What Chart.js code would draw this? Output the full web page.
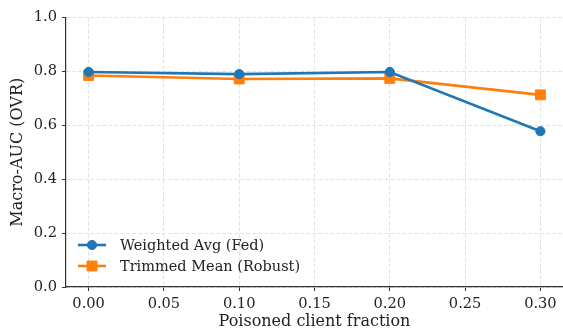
<!DOCTYPE html>
<html><head><meta charset="utf-8">
<script src="https://cdn.jsdelivr.net/npm/chart.js@4/dist/chart.umd.min.js"></script>
<style>html,body{margin:0;padding:0;background:#fff}#wrap{width:563px;height:331px}</style>
</head><body><div id="wrap"><canvas id="c" width="563" height="331"></canvas></div>
<script>
const fractions = [0.00, 0.10, 0.20, 0.30];
const weightedAvg = [0.798, 0.790, 0.798, 0.578];
const trimmedMean = [0.785, 0.772, 0.774, 0.713];
const seriesLabels = ['Weighted Avg (Fed)', 'Trimmed Mean (Robust)'];
const xTitle = 'Poisoned client fraction';
const yTitle = 'Macro-AUC (OVR)';

const FONT = "'DejaVu Serif', serif";
const toXY = (xs, ys) => xs.map((x, i) => ({x: x, y: ys[i]}));
const _dp = Chart.helpers.drawPoint;

const legendPlugin = {
  id: 'mplLegend',
  afterDatasetsDraw(chart) {
    const ctx = chart.ctx;
    const area = chart.chartArea;
    const x0 = area.left + 12, lineLen = 28;
    const rowH = 21;
    const n = chart.data.datasets.length;
    const yStart = area.bottom - 21 - (n - 1) * rowH;
    chart.data.datasets.forEach((ds, i) => {
      const y = yStart + i * rowH;
      ctx.save();
      ctx.strokeStyle = ds.borderColor;
      ctx.lineWidth = ds.borderWidth;
      ctx.beginPath();
      ctx.moveTo(x0, y); ctx.lineTo(x0 + lineLen, y);
      ctx.stroke();
      ctx.fillStyle = ds.pointBackgroundColor;
      ctx.strokeStyle = ds.pointBorderColor;
      ctx.lineWidth = ds.pointBorderWidth;
      _dp(ctx, {pointStyle: ds.pointStyle, rotation: 0, radius: ds.pointRadius, borderWidth: ds.pointBorderWidth}, x0 + lineLen / 2, y);
      ctx.fillStyle = '#222';
      ctx.font = "14.5px " + FONT;
      ctx.textBaseline = 'middle';
      ctx.textAlign = 'left';
      ctx.fillText(ds.label, x0 + lineLen + 14, y + 1);
      ctx.restore();
    });
  }
};

new Chart(document.getElementById('c'), {
  type: 'line',
  data: {
    datasets: [
      {label: seriesLabels[0], data: toXY(fractions, weightedAvg), borderColor: '#1f77b4', backgroundColor: '#1f77b4',
       pointBackgroundColor: '#1f77b4', pointBorderColor: '#1f77b4', pointBorderWidth: 1,
       borderWidth: 2.6, pointStyle: 'circle', pointRadius: 4.6, tension: 0},
      {label: seriesLabels[1], data: toXY(fractions, trimmedMean), borderColor: '#ff7f0e', backgroundColor: '#ff7f0e',
       pointBackgroundColor: '#ff7f0e', pointBorderColor: '#ff7f0e', pointBorderWidth: 1,
       borderWidth: 2.6, pointStyle: 'rect', pointRadius: 7, tension: 0}
    ]
  },
  options: {
    responsive: false, animation: false, devicePixelRatio: 1,
    layout: {autoPadding: false, padding: {top: 17.5, right: 0, left: 0, bottom: 0}},
    plugins: {legend: {display: false}, tooltip: {enabled: false}},
    scales: {
      x: {
        type: 'linear', min: -0.015, max: 0.315,
        ticks: {stepSize: 0.05, includeBounds: false, autoSkip: false, maxRotation: 0, padding: 4,
                color: '#222', font: {family: FONT, size: 14.6},
                callback: v => Number(v).toFixed(2)},
        grid: {color: '#e2e2e2', lineWidth: 1, tickColor: '#333', tickLength: 4, tickBorderDash: [], tickWidth: 1},
        border: {display: true, color: '#333', width: 1.2, dash: [4, 2]},
        title: {display: true, text: xTitle, color: '#222', font: {family: FONT, size: 16}, padding: {top: 1, bottom: 0}},
        afterFit: s => { s.height = 44; s.paddingLeft = 0; s.paddingRight = 0; }
      },
      y: {
        type: 'linear', min: 0, max: 1,
        ticks: {stepSize: 0.2, includeBounds: false, padding: 5, color: '#222', font: {family: FONT, size: 14.6},
                callback: v => Number(v).toFixed(1)},
        grid: {color: '#e2e2e2', lineWidth: 1, tickColor: '#333', tickLength: 4, tickBorderDash: [], tickWidth: 1},
        border: {display: true, color: '#333', width: 1.2, dash: [4, 2]},
        title: {display: true, text: yTitle, color: '#222', font: {family: FONT, size: 16}, padding: {top: 8, bottom: 4}},
        afterFit: s => { s.width = 66; s.paddingTop = 0; s.paddingBottom = 0; }
      }
    }
  },
  plugins: [legendPlugin]
});
</script></body></html>
